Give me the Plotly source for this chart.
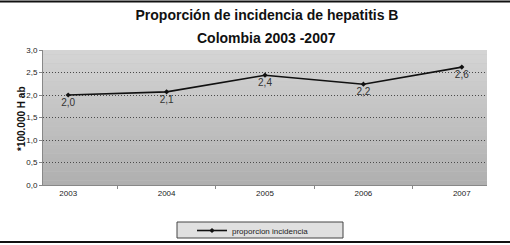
import plotly.graph_objects as go

years = ["2003", "2004", "2005", "2006", "2007"]
incidencia = [2.0, 2.07, 2.44, 2.24, 2.62]
y_ticks = [0.0, 0.5, 1.0, 1.5, 2.0, 2.5, 3.0]
series_name = "proporcion incidencia"
title_line1 = "Proporción de incidencia de hepatitis B"
title_line2 = "Colombia 2003 -2007"
y_title = "*100.000 H ab"

FONT = "Liberation Sans, Arial"
W, H = 510, 245
L, R, T, B = 43, 23, 50, 60
PW, PH = W - L - R, H - T - B


def px_x(x):
    return (x - L) / PW


def px_y(y):
    return (H - B - y) / PH


fig = go.Figure()
fig.add_trace(go.Scatter(
    x=years, y=incidencia, name=series_name,
    mode="lines+markers+text",
    line=dict(color="#111111", width=1.6),
    marker=dict(symbol="diamond", size=4, color="#111111"),
    texttemplate="%{y:.1f}", textposition="bottom center",
    textfont=dict(family=FONT, size=10, color="#333333"),
    cliponaxis=False,
))

# gradient-like background for the plot area
n = 30
top = (0xd4, 0xd4, 0xd4)
bot = (0xb0, 0xb0, 0xb0)
shapes = []
for i in range(n):
    t = i / (n - 1)
    c = tuple(round(top[k] + (bot[k] - top[k]) * t) for k in range(3))
    shapes.append(dict(
        type="rect", xref="x domain", yref="y domain",
        x0=0, x1=1, y0=1 - (i + 1) / n, y1=1 - i / n,
        fillcolor="rgb(%d,%d,%d)" % c, line=dict(width=0), layer="below",
    ))
# top and bottom frame lines
shapes.append(dict(type="line", xref="paper", yref="paper", x0=px_x(-5), x1=px_x(W + 5),
                   y0=px_y(1.5), y1=px_y(1.5), line=dict(color="#111111", width=2)))
shapes.append(dict(type="line", xref="paper", yref="paper", x0=px_x(-5), x1=px_x(W + 5),
                   y0=px_y(242), y1=px_y(242), line=dict(color="#111111", width=2)))
# legend box
shapes.append(dict(type="rect", xref="paper", yref="paper",
                   x0=px_x(177), x1=px_x(343), y0=px_y(238), y1=px_y(222),
                   fillcolor="#e0e0e0", line=dict(color="#444444", width=1),
                   layer="below"))

fig.update_layout(
    width=W, height=H,
    margin=dict(l=L, r=R, t=T, b=B, autoexpand=False),
    paper_bgcolor="white", plot_bgcolor="#c4c4c4",
    separators=",.",
    shapes=shapes,
    title=dict(text=title_line1, x=267 / W, xanchor="center", y=1 - 15 / H,
               yanchor="middle",
               font=dict(family=FONT, size=14, color="#111111", weight="bold")),
    annotations=[
        dict(text=title_line2, xref="paper", yref="paper",
             x=px_x(266), y=px_y(38),
             xanchor="center", yanchor="middle", showarrow=False,
             font=dict(family=FONT, size=14, color="#111111", weight="bold")),
        dict(text=y_title, xref="paper", yref="paper",
             x=px_x(21), y=px_y(119), textangle=-90,
             xanchor="center", yanchor="middle", showarrow=False,
             font=dict(family=FONT, size=10, color="#111111", weight="bold")),
    ],
    xaxis=dict(type="category", tickson="boundaries", ticks="outside", ticklen=3,
               tickcolor="#888888", showgrid=False, showline=True,
               linecolor="#888888", linewidth=1,
               tickfont=dict(family=FONT, size=8, color="#222222")),
    yaxis=dict(range=[0, 3.0], tickvals=y_ticks, tickformat=".1f",
               ticks="outside", ticklen=3, tickcolor="#888888",
               showline=True, linecolor="#888888", linewidth=1,
               gridcolor="#4a4a4a", griddash="1px,2px", gridwidth=1,
               zeroline=False,
               tickfont=dict(family=FONT, size=8, color="#222222")),
    showlegend=True,
    legend=dict(x=px_x(192), y=px_y(216), xanchor="left", yanchor="top",
                orientation="h", bgcolor="rgba(0,0,0,0)", borderwidth=0,
                font=dict(family=FONT, size=8, color="#222222"),
                itemwidth=30, tracegroupgap=0),
)
fig.update_traces(showlegend=True)

fig.write_html("out.html", config={"displayModeBar": False},
               post_script="document.body.style.margin='0';")
